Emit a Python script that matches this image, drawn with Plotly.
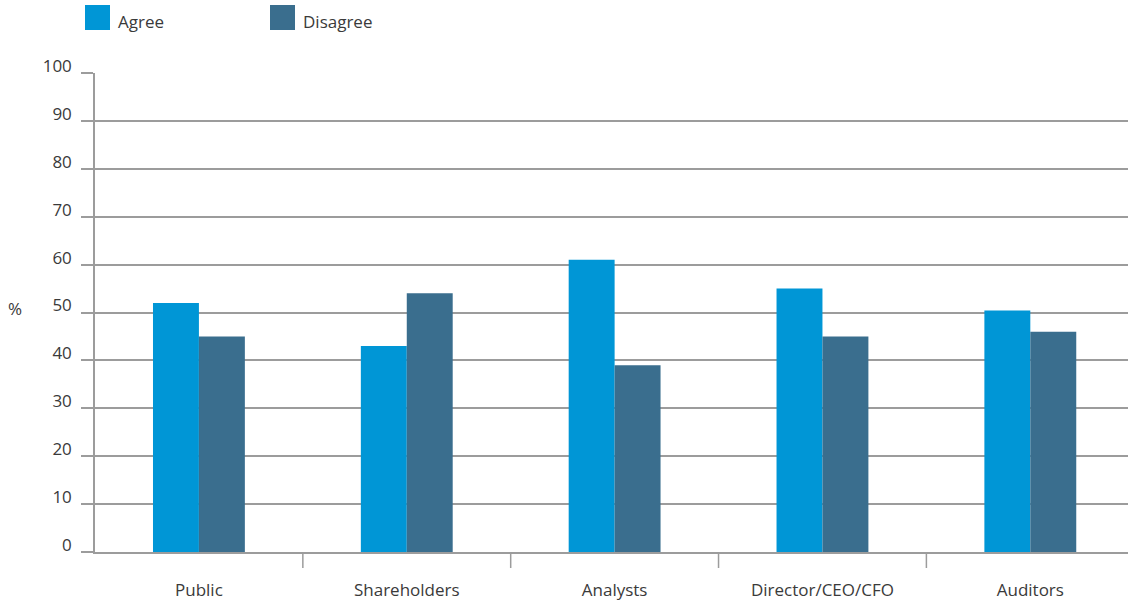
import plotly.graph_objects as go

categories = ["Public", "Shareholders", "Analysts", "Director/CEO/CFO", "Auditors"]
agree = [52, 43, 61, 55, 50.4]
disagree = [45, 54, 39, 45, 46]
y_ticks = [0, 10, 20, 30, 40, 50, 60, 70, 80, 90, 100]

AGREE_COLOR = "#0096D6"
DISAGREE_COLOR = "#3A6E8E"
GRID = "#9c9c9c"
TEXT = "#3a3a3a"
FONT = "Open Sans"

fig = go.Figure()
fig.add_bar(x=categories, y=agree, name="Agree", marker=dict(color=AGREE_COLOR, line_width=0))
fig.add_bar(x=categories, y=disagree, name="Disagree", marker=dict(color=DISAGREE_COLOR, line_width=0))

W, H = 1128, 604
L, R, T, B = 95, 0, 73, 52

fig.update_layout(
    width=W, height=H,
    margin=dict(l=L, r=R, t=T, b=B),
    paper_bgcolor="white", plot_bgcolor="white",
    barmode="group", bargap=0.558, bargroupgap=0,
    showlegend=False,
    font=dict(family=FONT, size=17, color=TEXT),
)

fig.update_xaxes(
    range=[-0.5, 4.47],
    showline=True, linecolor=GRID, linewidth=1.5,
    showgrid=False, ticks="", ticklabelstandoff=22,
    tickfont=dict(family=FONT, size=17, color=TEXT),
)
fig.update_yaxes(
    range=[0, 100], tickvals=y_ticks,
    showline=True, linecolor=GRID, linewidth=1.5,
    showgrid=True, gridcolor=GRID, gridwidth=1.5,
    ticks="outside", ticklen=12, tickcolor=GRID, tickwidth=1.5,
    ticklabelstandoff=6, ticklabelshift=-7,
    tickfont=dict(family=FONT, size=17, color=TEXT),
    zeroline=False,
)

# separators between category groups below the axis
for i in range(len(categories) - 1):
    fig.add_shape(type="line", xref="x", yref="paper",
                  x0=i + 0.5, x1=i + 0.5, y0=0, y1=-16 / (H - T - B),
                  line=dict(color=GRID, width=1.5))

# axis unit label
fig.add_annotation(text="%", xref="paper", yref="y", x=-80 / (W - L - R), y=50.8,
                   xanchor="center", yanchor="middle", showarrow=False,
                   font=dict(family=FONT, size=17, color=TEXT))

# legend built from swatches and labels above the plot
pw, ph = W - L - R, H - T - B
def px_x(px):
    return (px - L) / pw
def px_y(py):
    return (H - B - py) / ph

for x0, label, color in [(85, "Agree", AGREE_COLOR), (270, "Disagree", DISAGREE_COLOR)]:
    fig.add_shape(type="rect", xref="paper", yref="paper",
                  x0=px_x(x0), x1=px_x(x0 + 25), y0=px_y(30), y1=px_y(5),
                  fillcolor=color, line_width=0)
    fig.add_annotation(text=label, xref="paper", yref="paper",
                       x=px_x(x0 + 31), y=px_y(22), xanchor="left", yanchor="middle",
                       showarrow=False, font=dict(family=FONT, size=17, color=TEXT))

fig.write_html("out.html")
